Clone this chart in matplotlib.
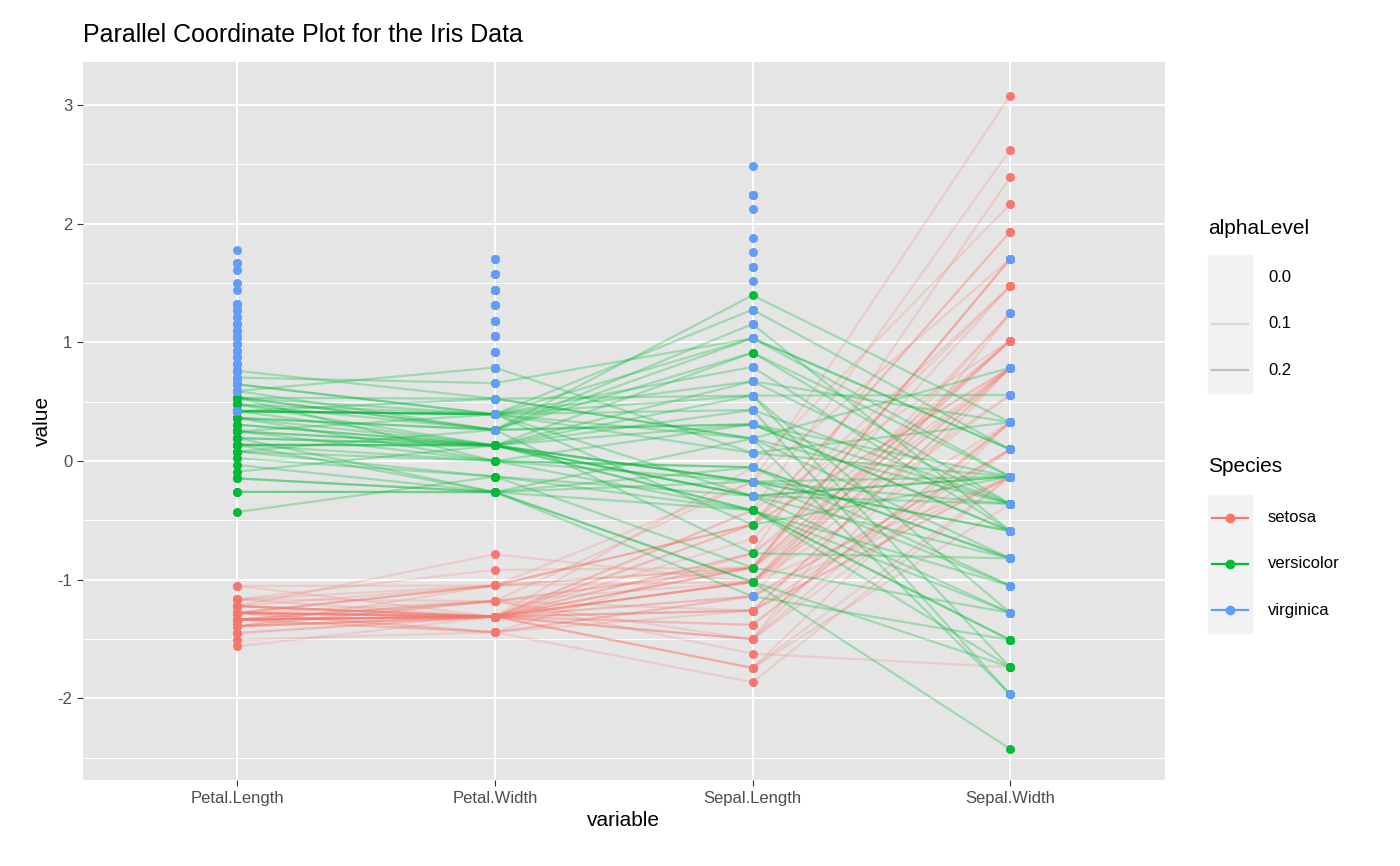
import numpy as np
import matplotlib
matplotlib.use("Agg")
import matplotlib.pyplot as plt
from matplotlib.lines import Line2D
from matplotlib.patches import Rectangle

plt.rcParams['font.family'] = ['Liberation Sans', 'DejaVu Sans']
plt.rcParams['axes.unicode_minus'] = False

# iris: Sepal.Length, Sepal.Width, Petal.Length, Petal.Width
sepal_length = [5.1,4.9,4.7,4.6,5.0,5.4,4.6,5.0,4.4,4.9,5.4,4.8,4.8,4.3,5.8,5.7,5.4,5.1,5.7,5.1,5.4,5.1,4.6,5.1,4.8,5.0,5.0,5.2,5.2,4.7,4.8,5.4,5.2,5.5,4.9,5.0,5.5,4.9,4.4,5.1,5.0,4.5,4.4,5.0,5.1,4.8,5.1,4.6,5.3,5.0,
 7.0,6.4,6.9,5.5,6.5,5.7,6.3,4.9,6.6,5.2,5.0,5.9,6.0,6.1,5.6,6.7,5.6,5.8,6.2,5.6,5.9,6.1,6.3,6.1,6.4,6.6,6.8,6.7,6.0,5.7,5.5,5.5,5.8,6.0,5.4,6.0,6.7,6.3,5.6,5.5,5.5,6.1,5.8,5.0,5.6,5.7,5.7,6.2,5.1,5.7,
 6.3,5.8,7.1,6.3,6.5,7.6,4.9,7.3,6.7,7.2,6.5,6.4,6.8,5.7,5.8,6.4,6.5,7.7,7.7,6.0,6.9,5.6,7.7,6.3,6.7,7.2,6.2,6.1,6.4,7.2,7.4,7.9,6.4,6.3,6.1,7.7,6.3,6.4,6.0,6.9,6.7,6.9,5.8,6.8,6.7,6.7,6.3,6.5,6.2,5.9]
sepal_width = [3.5,3.0,3.2,3.1,3.6,3.9,3.4,3.4,2.9,3.1,3.7,3.4,3.0,3.0,4.0,4.4,3.9,3.5,3.8,3.8,3.4,3.7,3.6,3.3,3.4,3.0,3.4,3.5,3.4,3.2,3.1,3.4,4.1,4.2,3.1,3.2,3.5,3.6,3.0,3.4,3.5,2.3,3.2,3.5,3.8,3.0,3.8,3.2,3.7,3.3,
 3.2,3.2,3.1,2.3,2.8,2.8,3.3,2.4,2.9,2.7,2.0,3.0,2.2,2.9,2.9,3.1,3.0,2.7,2.2,2.5,3.2,2.8,2.5,2.8,2.9,3.0,2.8,3.0,2.9,2.6,2.4,2.4,2.7,2.7,3.0,3.4,3.1,2.3,3.0,2.5,2.6,3.0,2.6,2.3,2.7,3.0,2.9,2.9,2.5,2.8,
 3.3,2.7,3.0,2.9,3.0,3.0,2.5,2.9,2.5,3.6,3.2,2.7,3.0,2.5,2.8,3.2,3.0,3.8,2.6,2.2,3.2,2.8,2.8,2.7,3.3,3.2,2.8,3.0,2.8,3.0,2.8,3.8,2.8,2.8,2.6,3.0,3.4,3.1,3.0,3.1,3.1,3.1,2.7,3.2,3.3,3.0,2.5,3.0,3.4,3.0]
petal_length = [1.4,1.4,1.3,1.5,1.4,1.7,1.4,1.5,1.4,1.5,1.5,1.6,1.4,1.1,1.2,1.5,1.3,1.4,1.7,1.5,1.7,1.5,1.0,1.7,1.9,1.6,1.6,1.5,1.4,1.6,1.6,1.5,1.5,1.4,1.5,1.2,1.3,1.4,1.3,1.5,1.3,1.3,1.3,1.6,1.9,1.4,1.6,1.4,1.5,1.4,
 4.7,4.5,4.9,4.0,4.6,4.5,4.7,3.3,4.6,3.9,3.5,4.2,4.0,4.7,3.6,4.4,4.5,4.1,4.5,3.9,4.8,4.0,4.9,4.7,4.3,4.4,4.8,5.0,4.5,3.5,3.8,3.7,3.9,5.1,4.5,4.5,4.7,4.4,4.1,4.0,4.4,4.6,4.0,3.3,4.2,4.2,4.2,4.3,3.0,4.1,
 6.0,5.1,5.9,5.6,5.8,6.6,4.5,6.3,5.8,6.1,5.1,5.3,5.5,5.0,5.1,5.3,5.5,6.7,6.9,5.0,5.7,4.9,6.7,4.9,5.7,6.0,4.8,4.9,5.6,5.8,6.1,6.4,5.6,5.1,5.6,6.1,5.6,5.5,4.8,5.4,5.6,5.1,5.1,5.9,5.7,5.2,5.0,5.2,5.4,5.1]
petal_width = [0.2,0.2,0.2,0.2,0.2,0.4,0.3,0.2,0.2,0.1,0.2,0.2,0.1,0.1,0.2,0.4,0.4,0.3,0.3,0.3,0.2,0.4,0.2,0.5,0.2,0.2,0.4,0.2,0.2,0.2,0.2,0.4,0.1,0.2,0.2,0.2,0.2,0.1,0.2,0.2,0.3,0.3,0.2,0.6,0.4,0.3,0.2,0.2,0.2,0.2,
 1.4,1.5,1.5,1.3,1.5,1.3,1.6,1.0,1.3,1.4,1.0,1.5,1.0,1.4,1.3,1.4,1.5,1.0,1.5,1.1,1.8,1.3,1.5,1.2,1.3,1.4,1.4,1.7,1.5,1.0,1.1,1.0,1.2,1.6,1.5,1.6,1.5,1.3,1.3,1.3,1.2,1.4,1.2,1.0,1.3,1.2,1.3,1.3,1.1,1.3,
 2.5,1.9,2.1,1.8,2.2,2.1,1.7,1.8,1.8,2.5,2.0,1.9,2.1,2.0,2.4,2.3,1.8,2.2,2.3,1.5,2.3,2.0,2.0,1.8,2.1,1.8,1.8,1.8,2.1,1.6,1.9,2.0,2.2,1.5,1.4,2.3,2.4,1.8,1.8,2.1,2.4,2.3,1.9,2.3,2.5,2.3,1.9,2.0,2.3,1.8]
species = ["setosa"]*50 + ["versicolor"]*50 + ["virginica"]*50

variables = ["Petal.Length", "Petal.Width", "Sepal.Length", "Sepal.Width"]
species_names = ["setosa", "versicolor", "virginica"]
colors = {"setosa": "#F8766D", "versicolor": "#00BA38", "virginica": "#619CFF"}
line_alpha = {"setosa": 0.22, "versicolor": 0.3, "virginica": 0.0}

def std(v):
    v = np.array(v, float)
    return (v - v.mean()) / v.std(ddof=1)

Z = np.column_stack([std(petal_length), std(petal_width), std(sepal_length), std(sepal_width)])
sp = np.array(species)
xs = np.arange(len(variables))

fig = plt.figure(figsize=(14, 8.66), dpi=100)
ax = fig.add_axes([0.059, 0.099, 0.773, 0.829])
ax.set_facecolor("#E5E5E5")
for s in species_names:
    if line_alpha[s] > 0:
        for row in Z[sp == s]:
            ax.plot(xs, row, color=colors[s], alpha=line_alpha[s], lw=1.6, zorder=2)
for s in species_names:
    for j in xs:
        ax.scatter(np.full((sp == s).sum(), j), Z[sp == s, j], s=42, color=colors[s], zorder=3, linewidths=0)

ax.set_xlim(-0.6, 3.6)
ax.set_ylim(-2.69, 3.36)
ax.set_yticks([-2, -1, 0, 1, 2, 3])
ax.set_yticks([-2.5, -1.5, -0.5, 0.5, 1.5, 2.5], minor=True)
ax.set_xticks(xs)
ax.set_xticklabels(variables)
ax.grid(True, which="major", color="white", lw=1.4, zorder=0)
ax.grid(True, which="minor", axis="y", color="white", lw=0.7, zorder=0)
ax.set_axisbelow(True)
for sp_ in ax.spines.values():
    sp_.set_visible(False)
ax.tick_params(which="both", length=4, color="#333333", labelsize=12, labelcolor="#4D4D4D")
ax.tick_params(which="minor", length=0)
ax.set_xlabel("variable", fontsize=15)
ax.set_ylabel("value", fontsize=15)
fig.text(0.059, 0.951, "Parallel Coordinate Plot for the Iris Data", fontsize=18)

W, H = 1400, 866
def fx(x): return x / W
def fy(y): return 1 - y / H

# alphaLevel legend
fig.text(fx(1208), fy(228), "alphaLevel", fontsize=15, va="center")
for i, (lab, a) in enumerate([("0.0", 0.0), ("0.1", 0.1), ("0.2", 0.2)]):
    yc = 278 + 46 * i
    fig.patches.append(Rectangle((fx(1208), fy(yc + 23)), 44 / W, 46 / H, transform=fig.transFigure, color="#F2F2F2", zorder=1))
    fig.lines.append(Line2D([fx(1212), fx(1248)], [fy(yc), fy(yc)], transform=fig.transFigure, color="black", alpha=a, lw=1.6))
    fig.text(fx(1268), fy(yc), lab, fontsize=12, va="center")

# Species legend
fig.text(fx(1208), fy(467), "Species", fontsize=15, va="center")
for i, s in enumerate(species_names):
    yc = 518 + 46 * i
    fig.patches.append(Rectangle((fx(1208), fy(yc + 23)), 44 / W, 46 / H, transform=fig.transFigure, color="#F2F2F2", zorder=1))
    fig.lines.append(Line2D([fx(1212), fx(1248)], [fy(yc), fy(yc)], transform=fig.transFigure, color=colors[s], lw=1.6))
    fig.lines.append(Line2D([fx(1230)], [fy(yc)], transform=fig.transFigure, color=colors[s], marker="o", ms=7, mew=0))
    fig.text(fx(1268), fy(yc), s, fontsize=12, va="center")

fig.savefig("out.png", dpi=100)
